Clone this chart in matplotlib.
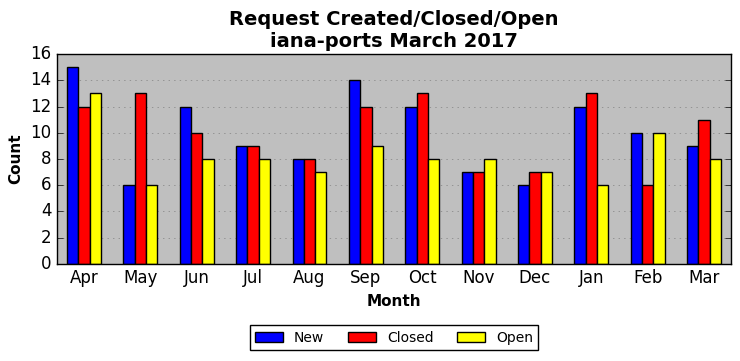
import numpy as np
import matplotlib
matplotlib.use('Agg')
from matplotlib import pyplot as plt

plt.style.use('classic')

months = ['Apr', 'May', 'Jun', 'Jul', 'Aug', 'Sep', 'Oct', 'Nov', 'Dec', 'Jan', 'Feb', 'Mar']
new = [15, 6, 12, 9, 8, 14, 12, 7, 6, 12, 10, 9]
closed = [12, 13, 10, 9, 8, 12, 13, 7, 7, 13, 6, 11]
opened = [13, 6, 8, 8, 7, 9, 8, 8, 7, 6, 10, 8]

fig = plt.figure(figsize=(7.4, 3.61), dpi=100)
fig.patch.set_facecolor('white')
ax = fig.add_axes([0.077, 0.269, 0.911, 0.581])
ax.set_facecolor('#bfbfbf')

x = np.arange(len(months))
w = 0.2
ax.bar(x - w, new, w, color='blue', edgecolor='black', label='New', align='center')
ax.bar(x, closed, w, color='red', edgecolor='black', label='Closed', align='center')
ax.bar(x + w, opened, w, color='yellow', edgecolor='black', label='Open', align='center')

ax.set_xlim(-0.48, len(months) - 0.52)
ax.set_ylim(0, 16)
ax.set_yticks(range(0, 17, 2))
ax.set_xticks(x)
ax.set_xticklabels(months, fontsize=12)
ax.tick_params(axis='y', labelsize=12)
ax.tick_params(axis='x', length=0)
ax.yaxis.grid(True, linestyle=':', color='gray')
ax.xaxis.grid(False)
ax.set_axisbelow(True)

ax.set_title('Request Created/Closed/Open\niana-ports March 2017', fontsize=14, fontweight='bold')
ax.set_xlabel('Month', fontsize=11, fontweight='bold')
ax.set_ylabel('Count', fontsize=11, fontweight='bold')

ax.legend(loc='upper center', bbox_to_anchor=(0.5, -0.26), ncol=3, fontsize=10,
          columnspacing=1.7)

fig.savefig('out.png', dpi=100)
